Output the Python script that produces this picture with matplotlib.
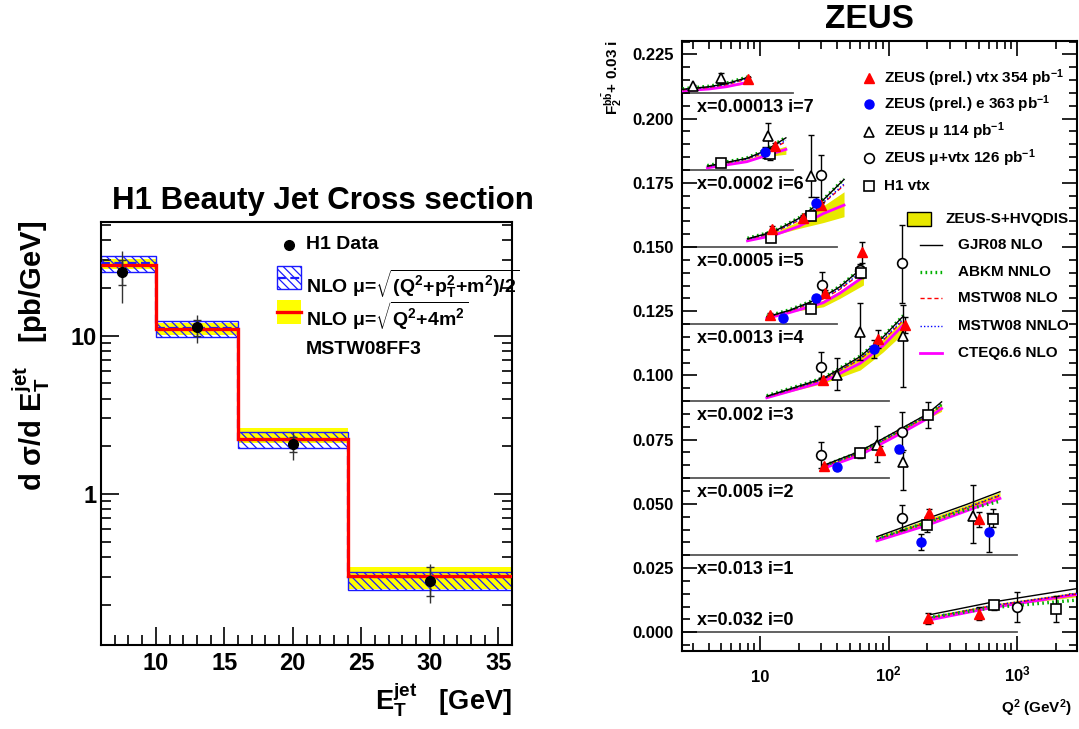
import numpy as np
import matplotlib
matplotlib.use('Agg')
import matplotlib.pyplot as plt
from matplotlib.patches import Rectangle
from matplotlib.ticker import FixedLocator, NullFormatter, LogLocator, MultipleLocator, FormatStrFormatter

plt.rcParams['font.family'] = ['Liberation Sans', 'DejaVu Sans']
plt.rcParams['font.weight'] = 'bold'
plt.rcParams['mathtext.fontset'] = 'custom'
plt.rcParams['mathtext.rm'] = 'Liberation Sans:bold'
plt.rcParams['mathtext.it'] = 'Liberation Sans:bold'
plt.rcParams['mathtext.bf'] = 'Liberation Sans:bold'
plt.rcParams['mathtext.sf'] = 'Liberation Sans:bold'
plt.rcParams['mathtext.default'] = 'bf'

# ---------------- Left panel data (H1) ----------------
H1_BIN_EDGES = [6, 10, 16, 24, 36]
H1_X = [7.5, 13, 20, 30]
H1_Y = [25.4, 11.35, 2.06, 0.283]
H1_TOT_UP = [34.3, 13.6, 2.45, 0.36]
H1_TOT_DN = [16.1, 8.96, 1.64, 0.206]
H1_STAT_UP = [30.0, 12.6, 2.30, 0.344]
H1_STAT_DN = [21.0, 10.0, 1.85, 0.225]
NLO_A_CEN = [28.6, 11.1, 2.20, 0.298]
NLO_A_LO = [25.2, 9.8, 1.95, 0.248]
NLO_A_HI = [32.0, 12.3, 2.45, 0.320]
NLO_B_CEN = [27.9, 11.0, 2.22, 0.302]
NLO_B_LO = [26.3, 10.1, 2.09, 0.250]
NLO_B_HI = [30.6, 12.0, 2.60, 0.344]

# ---------------- Right panel data (ZEUS F2bb) ----------------
BIN_X = ['0.032', '0.013', '0.005', '0.002', '0.0013', '0.0005', '0.0002', '0.00013']
BASE_Y = [0.000, 0.030, 0.060, 0.090, 0.120, 0.150, 0.180, 0.210]
BASE_QMAX = [1000, 1000, 100, 100, 40, 40, 18, 18]
LABEL_Y = [0.0044, 0.0244, 0.0543, 0.0843, 0.1143, 0.1443, 0.1743, 0.2043]

Q2N = [
    [203, 650, 3000],
    [81, 200, 400, 733],
    [32, 60, 122, 197, 258],
    [11.3, 31, 60, 90, 130],
    [11.3, 17.1, 31, 41.8, 63.7],
    [8, 12.7, 20, 31, 45],
    [3.9, 7.9, 11, 15.9],
    [2.5, 4, 5.5, 8.4],
]
GJR = [
    [0.0067, 0.0118, 0.0171],
    [0.0372, 0.0443, 0.0497, 0.0547],
    [0.0652, 0.0705, 0.0790, 0.0848, 0.0897],
    [0.0919, 0.0988, 0.1073, 0.1148, 0.1231],
    [0.1228, 0.1254, 0.1306, 0.1345, 0.1423],
    [0.1532, 0.1559, 0.1611, 0.1683, 0.1763],
    [0.1815, 0.1845, 0.1875, 0.1925],
    [0.2114, 0.2124, 0.2136, 0.2163],
]
ABKM = [
    [0.0057, 0.0096, 0.0126],
    [0.0365, 0.0428, 0.0477, 0.0510],
    [0.0650, 0.0702, 0.0786, 0.0843, 0.0887],
    [0.0921, 0.0990, 0.1075, 0.1150, 0.1233],
    [0.1230, 0.1256, 0.1308, 0.1347, 0.1425],
    [0.1534, 0.1561, 0.1613, 0.1685, 0.1765],
    [0.1817, 0.1847, 0.1877, 0.1927],
    [0.2116, 0.2126, 0.2138, 0.2165],
]
MSTW = [
    [0.0055, 0.0104, 0.0150],
    [0.0362, 0.0428, 0.0483, 0.0532],
    [0.0647, 0.0699, 0.0782, 0.0840, 0.0884],
    [0.0917, 0.0983, 0.1063, 0.1135, 0.1215],
    [0.1226, 0.1251, 0.1298, 0.1335, 0.1405],
    [0.1530, 0.1555, 0.1603, 0.1670, 0.1740],
    [0.1813, 0.1842, 0.1868, 0.1910],
    [0.2112, 0.2121, 0.2132, 0.2157],
]
MSTWNN = [
    [0.0056, 0.0105, 0.0152],
    [0.0363, 0.0430, 0.0485, 0.0534],
    [0.0648, 0.0700, 0.0784, 0.0842, 0.0886],
    [0.0917, 0.0984, 0.1065, 0.1138, 0.1220],
    [0.1226, 0.1252, 0.1300, 0.1338, 0.1410],
    [0.1530, 0.1556, 0.1605, 0.1673, 0.1745],
    [0.1813, 0.1842, 0.1870, 0.1915],
    [0.2113, 0.2122, 0.2133, 0.2159],
]
CTEQ = [
    [0.0047, 0.0097, 0.0148],
    [0.0356, 0.0417, 0.0472, 0.0521],
    [0.0640, 0.0690, 0.0772, 0.0830, 0.0871],
    [0.0913, 0.0975, 0.1047, 0.1115, 0.1196],
    [0.1222, 0.1245, 0.1283, 0.1320, 0.1384],
    [0.1524, 0.1545, 0.1580, 0.1630, 0.1663],
    [0.1808, 0.1832, 0.1855, 0.1880],
    [0.2108, 0.2115, 0.2124, 0.2143],
]
BAND_LO = [
    [0.0050, 0.0099, 0.0139],
    [0.0358, 0.0422, 0.0478, 0.0525],
    [0.0642, 0.0692, 0.0774, 0.0830, 0.0860],
    [0.0914, 0.0969, 0.1021, 0.1090, 0.1164],
    [0.1223, 0.1247, 0.1267, 0.1300, 0.1352],
    [0.1525, 0.1545, 0.1572, 0.1595, 0.1618],
    [0.1810, 0.1835, 0.1852, 0.1861],
    [0.2109, 0.2116, 0.2125, 0.2137],
]
BAND_HI = [
    [0.0062, 0.0110, 0.0158],
    [0.0370, 0.0440, 0.0495, 0.0545],
    [0.0650, 0.0703, 0.0788, 0.0846, 0.0891],
    [0.0918, 0.0988, 0.1073, 0.1140, 0.1215],
    [0.1227, 0.1252, 0.1293, 0.1330, 0.1391],
    [0.1530, 0.1555, 0.1600, 0.1660, 0.1715],
    [0.1814, 0.1840, 0.1868, 0.1893],
    [0.2113, 0.2121, 0.2131, 0.2150],
]

RT_Q2 = [8.0, 13.0, 12.3, 21.7, 29.8, 12.0, 32, 62.4, 31, 83, 135, 31.5, 85, 207, 503, 203, 503]
RT_Y = [0.2154, 0.1894, 0.1569, 0.1611, 0.1663, 0.1235, 0.1319, 0.1479, 0.0982, 0.1140, 0.1196,
        0.0647, 0.0709, 0.0463, 0.0440, 0.0055, 0.0072]
RT_ERR = [0.0008, 0.0010, 0.0012, 0.0012, 0.0012, 0.0008, 0.0012, 0.0040, 0.0010, 0.0035, 0.0030,
          0.0010, 0.0015, 0.0015, 0.0030, 0.0021, 0.0025]

BC_Q2 = [11.0, 27.3, 15.0, 27.3, 77.5, 40, 120, 180, 604]
BC_Y = [0.1868, 0.1670, 0.1222, 0.1300, 0.1102, 0.0642, 0.0712, 0.0352, 0.0389]
BC_ERR = [0.0020, 0.0025, 0.0008, 0.0015, 0.0035, 0.0012, 0.0015, 0.0030, 0.0075]

OT_Q2 = [3.0, 5.0, 11.5, 24.7, 39.8, 60, 130, 81, 130, 454]
OT_Y = [0.2127, 0.2157, 0.1932, 0.1776, 0.1001, 0.1170, 0.1155, 0.0729, 0.0664, 0.0454]
OT_EUP = [0.0005, 0.0020, 0.0050, 0.0160, 0.0065, 0.0110, 0.0118, 0.0074, 0.0045, 0.0118]
OT_EDN = [0.0005, 0.0018, 0.0048, 0.0080, 0.0058, 0.0110, 0.0199, 0.0065, 0.0111, 0.0108]

OC_Q2 = [29.8, 30.1, 60, 126, 30, 30, 126, 126, 1000]
OC_Y = [0.1780, 0.1352, 0.1412, 0.1436, 0.1034, 0.0690, 0.0781, 0.0446, 0.0099]
OC_EUP = [0.0078, 0.0052, 0.0020, 0.0149, 0.0058, 0.0051, 0.0077, 0.0049, 0.0059]
OC_EDN = [0.0110, 0.0046, 0.0020, 0.0156, 0.0046, 0.0052, 0.0078, 0.0048, 0.0058]

OS_Q2 = [5.0, 12.0, 12.1, 24.9, 24.9, 60.5, 60, 203, 200, 650, 660, 2000]
OS_Y = [0.1828, 0.1862, 0.1534, 0.1620, 0.1258, 0.1400, 0.0699, 0.0845, 0.0417, 0.0440, 0.0105, 0.0092]
OS_EUP = [0.0005, 0.0023, 0.0008, 0.0015, 0.0012, 0.0020, 0.0020, 0.0052, 0.0033, 0.0039, 0.0016, 0.0050]
OS_EDN = [0.0005, 0.0022, 0.0008, 0.0015, 0.0012, 0.0020, 0.0020, 0.0051, 0.0026, 0.0030, 0.0017, 0.0051]

LEG1_LABELS = [r'ZEUS (prel.) vtx 354 pb$^{-1}$', r'ZEUS (prel.) e 363 pb$^{-1}$',
               r'ZEUS $\mu$ 114 pb$^{-1}$', r'ZEUS $\mu$+vtx 126 pb$^{-1}$', 'H1 vtx']
LEG2_LABELS = ['GJR08 NLO', 'ABKM NNLO', 'MSTW08 NLO', 'MSTW08 NNLO', 'CTEQ6.6 NLO']

W, H = 1079, 729
fig = plt.figure(figsize=(W / 100, H / 100), dpi=100)

def fx(px):
    return px / W

def fy(py):
    return 1 - py / H

# ================= Left panel =================
L0, R0, T0, B0 = 101, 512, 221.7, 645
ax1 = fig.add_axes([fx(L0), fy(B0), fx(R0) - fx(L0), fy(T0) - fy(B0)])
ax1.set_yscale('log')
ax1.set_xlim(6, 36)
ax1.set_ylim(0.111, 52.5)

edges = np.array(H1_BIN_EDGES, dtype=float)
widths = np.diff(edges)
blo, bhi = np.array(NLO_B_LO), np.array(NLO_B_HI)
alo, ahi = np.array(NLO_A_LO), np.array(NLO_A_HI)
ax1.bar(edges[:-1], bhi - blo, width=widths, bottom=blo, align='edge', color='#ffff00', lw=0, zorder=1)
plt.rcParams['hatch.linewidth'] = 0.9
ax1.bar(edges[:-1], ahi - alo, width=widths, bottom=alo, align='edge', facecolor='none',
        edgecolor='#1a1aff', hatch='\\\\\\\\', lw=1.0, zorder=2)
ax1.stairs(NLO_A_CEN, edges, baseline=None, color='#1a1aff', ls=(0, (4, 2)), lw=1.6, zorder=3)
ax1.stairs(NLO_B_CEN, edges, baseline=None, color='#ff0000', lw=2.4, zorder=4)

hy = np.array(H1_Y)
ax1.errorbar(H1_X, H1_Y, yerr=[hy - np.array(H1_TOT_DN), np.array(H1_TOT_UP) - hy], fmt='none',
             ecolor='#333333', elinewidth=1.0, capsize=0, zorder=5)
ax1.errorbar(H1_X, H1_Y, yerr=[hy - np.array(H1_STAT_DN), np.array(H1_STAT_UP) - hy], fmt='none',
             ecolor='#333333', elinewidth=1.0, capsize=3, capthick=1.0, zorder=5)
ax1.plot(H1_X, H1_Y, 'o', color='black', ms=7, zorder=6)

ax1.set_yticks([1, 10])
ax1.set_yticklabels(['1', '10'])
ax1.yaxis.set_minor_locator(LogLocator(base=10, subs=np.arange(2, 10)))
ax1.yaxis.set_minor_formatter(NullFormatter())
ax1.xaxis.set_major_locator(FixedLocator([10, 15, 20, 25, 30, 35]))
ax1.xaxis.set_minor_locator(MultipleLocator(1))
ax1.tick_params(which='both', direction='in', left=True, right=True, top=False, bottom=True,
                labelsize=17, width=1.2)
ax1.tick_params(axis='y', which='both', pad=3)
ax1.tick_params(axis='x', which='both', pad=5)
ax1.tick_params(which='major', length=13)
ax1.tick_params(which='minor', length=7)
for s in ax1.spines.values():
    s.set_linewidth(1.5)

def a1(px, py):
    return ((px - L0) / (R0 - L0), (B0 - py) / (B0 - T0))

# legend left
x, y = a1(289, 245)
ax1.plot([x], [y], 'o', color='black', ms=7, transform=ax1.transAxes, clip_on=False)
tx = a1(306, 0)[0]
ax1.text(tx, a1(0, 245)[1], 'H1 Data', transform=ax1.transAxes, fontsize=14, va='center', ha='left')
x0, y0 = a1(277, 289)
x1, y1 = a1(301, 266)
ax1.add_patch(Rectangle((x0, y0), x1 - x0, y1 - y0, transform=ax1.transAxes, facecolor='none',
                        edgecolor='#1a1aff', hatch='\\\\\\\\', lw=1.0, clip_on=False))
ym = a1(0, 278)[1]
ax1.plot([x0, x1], [ym, ym], color='#1a1aff', ls=(0, (4, 2)), lw=1.6, transform=ax1.transAxes, clip_on=False)
ax1.text(tx, a1(0, 284)[1], r'NLO $\mu$=$\sqrt{(Q^2{+}p_T^2{+}m^2)/2}$', transform=ax1.transAxes,
         fontsize=14, va='center', ha='left')
x0, y0 = a1(277, 324)
x1, y1 = a1(301, 300)
ax1.add_patch(Rectangle((x0, y0), x1 - x0, y1 - y0, transform=ax1.transAxes, facecolor='#ffff00',
                        lw=0, clip_on=False))
ym = a1(0, 312)[1]
ax1.plot([x0, x1], [ym, ym], color='#ff0000', lw=2.4, transform=ax1.transAxes, clip_on=False)
ax1.text(tx, a1(0, 316)[1], r'NLO $\mu$=$\sqrt{Q^2{+}4m^2}$', transform=ax1.transAxes,
         fontsize=14, va='center', ha='left')
ax1.text(tx, a1(0, 350)[1], 'MSTW08FF3', transform=ax1.transAxes, fontsize=14, va='center', ha='left')

fig.text(fx(323), fy(201), 'H1 Beauty Jet Cross section', fontsize=22.5, ha='center', va='center')
fig.text(fx(31), fy(356), r'd $\sigma$/d E$_T^{jet}$   [pb/GeV]', rotation=90, fontsize=21,
         ha='center', va='center')
fig.text(fx(512), fy(700), r'E$_T^{jet}$   [GeV]', fontsize=19.5, ha='right', va='center')

# ================= Right panel =================
L2, R2, T2, B2 = 682.3, 1077, 41, 651
ax2 = fig.add_axes([fx(L2), fy(B2), fx(R2) - fx(L2), fy(T2) - fy(B2)])
ax2.set_xscale('log')
ax2.set_xlim(2.49, 2910)
ax2.set_ylim(-0.0073, 0.2302)

for i in range(8):
    ax2.plot([2.49, BASE_QMAX[i]], [BASE_Y[i], BASE_Y[i]], color='#555555', lw=1.3, zorder=1)
    ax2.text(3.22, LABEL_Y[i], 'x=%s i=%d' % (BIN_X[i], i), fontsize=13, ha='left', va='center', zorder=1)
    q = Q2N[i]
    ax2.fill_between(q, BAND_LO[i], BAND_HI[i], color='#e8e800', lw=0, zorder=2)
    ax2.plot(q, CTEQ[i], color='#ff00ff', lw=2.0, zorder=3)
    ax2.plot(q, MSTW[i], color='#ff0000', lw=1.0, ls=(0, (3, 2)), zorder=4)
    ax2.plot(q, MSTWNN[i], color='#0000ff', lw=1.0, ls=(0, (1, 1.5)), zorder=4)
    ax2.plot(q, ABKM[i], color='#00b000', lw=2.4, ls=(0, (0.5, 1.0)), zorder=5)
    ax2.plot(q, GJR[i], color='black', lw=1.0, zorder=6)

ekw = dict(fmt='none', ecolor='black', elinewidth=1.0, capsize=2.5, capthick=1.0, zorder=7)
ax2.errorbar(OT_Q2, OT_Y, yerr=[OT_EDN, OT_EUP], **ekw)
ax2.errorbar(OC_Q2, OC_Y, yerr=[OC_EDN, OC_EUP], **ekw)
ax2.errorbar(OS_Q2, OS_Y, yerr=[OS_EDN, OS_EUP], **ekw)
ax2.errorbar(RT_Q2, RT_Y, yerr=RT_ERR, **ekw)
ax2.errorbar(BC_Q2, BC_Y, yerr=BC_ERR, **ekw)
ax2.plot(OT_Q2, OT_Y, '^', mfc='white', mec='black', mew=1.2, ms=7, ls='none', zorder=8)
ax2.plot(OC_Q2, OC_Y, 'o', mfc='white', mec='black', mew=1.2, ms=7, ls='none', zorder=8)
ax2.plot(OS_Q2, OS_Y, 's', mfc='white', mec='black', mew=1.2, ms=7, ls='none', zorder=8)
ax2.plot(RT_Q2, RT_Y, '^', color='#ff0000', ms=6.5, ls='none', zorder=9)
ax2.plot(BC_Q2, BC_Y, 'o', color='#0000ff', ms=6.5, ls='none', zorder=9)

ax2.xaxis.set_major_locator(FixedLocator([10, 100, 1000]))
ax2.set_xticklabels(['10', r'$10^{2}$', r'$10^{3}$'])
ax2.xaxis.set_minor_locator(LogLocator(base=10, subs=np.arange(2, 10)))
ax2.xaxis.set_minor_formatter(NullFormatter())
ax2.yaxis.set_major_locator(MultipleLocator(0.025))
ax2.yaxis.set_minor_locator(MultipleLocator(0.005))
ax2.yaxis.set_major_formatter(FormatStrFormatter('%.3f'))
ax2.tick_params(which='both', direction='in', left=True, right=True, top=True, bottom=True,
                labelsize=12, width=1.2)
ax2.tick_params(axis='y', which='both', pad=6)
ax2.tick_params(axis='x', which='both', pad=22)
ax2.tick_params(which='major', length=11)
ax2.tick_params(which='minor', length=5.5)
for lbl in ax2.get_xticklabels():
    lbl.set_verticalalignment('baseline')
for s in ax2.spines.values():
    s.set_linewidth(1.5)

def a2(px, py):
    return ((px - L2) / (R2 - L2), (B2 - py) / (B2 - T2))

# legend 1
rows1 = [78.3, 104, 131.7, 158.3, 185.7]
mk = [dict(marker='^', color='#ff0000', ms=6.5),
      dict(marker='o', color='#0000ff', ms=6.5),
      dict(marker='^', mfc='white', mec='black', mew=1.2, ms=7),
      dict(marker='o', mfc='white', mec='black', mew=1.2, ms=7),
      dict(marker='s', mfc='white', mec='black', mew=1.2, ms=7)]
for r, lab, m in zip(rows1, LEG1_LABELS, mk):
    x, y = a2(869, r)
    ax2.plot([x], [y], ls='none', transform=ax2.transAxes, clip_on=False, zorder=10, **m)
    ax2.text(a2(884, 0)[0], y, lab, transform=ax2.transAxes, fontsize=11, ha='left', va='center', zorder=10)

# legend 2
x0, y0 = a2(907, 225.7)
x1, y1 = a2(930.7, 211.7)
ax2.add_patch(Rectangle((x0, y0), x1 - x0, y1 - y0, transform=ax2.transAxes, facecolor='#e8e800',
                        edgecolor='black', lw=1.0, clip_on=False, zorder=10))
ax2.text(a2(946, 0)[0], a2(0, 218.7)[1], 'ZEUS-S+HVQDIS', transform=ax2.transAxes, fontsize=11,
         ha='left', va='center', zorder=10)
rows2 = [245, 271.7, 298.3, 325.7, 353.3]
lstyles = [dict(color='black', lw=1.0),
           dict(color='#00b000', lw=2.4, ls=(0, (0.5, 1.0))),
           dict(color='#ff0000', lw=1.0, ls=(0, (3, 2))),
           dict(color='#0000ff', lw=1.0, ls=(0, (1, 1.5))),
           dict(color='#ff00ff', lw=2.0)]
for r, lab, st in zip(rows2, LEG2_LABELS, lstyles):
    xa, y = a2(920, r)
    xb = a2(941.7, r)[0]
    ax2.plot([xa, xb], [y, y], transform=ax2.transAxes, clip_on=False, zorder=10, **st)
    ax2.text(a2(958.3, 0)[0], y, lab, transform=ax2.transAxes, fontsize=11, ha='left', va='center', zorder=10)

fig.text(fx(869), fy(20), 'ZEUS', fontsize=24, ha='center', va='center')
fig.text(fx(612), fy(40), r'F$_2^{b\bar{b}}$+ 0.03 i', rotation=90, fontsize=11, ha='center', va='top')
fig.text(fx(1072), fy(708), r'Q$^2$ (GeV$^2$)', fontsize=11, ha='right', va='center')

fig.savefig('out.png', dpi=100)
